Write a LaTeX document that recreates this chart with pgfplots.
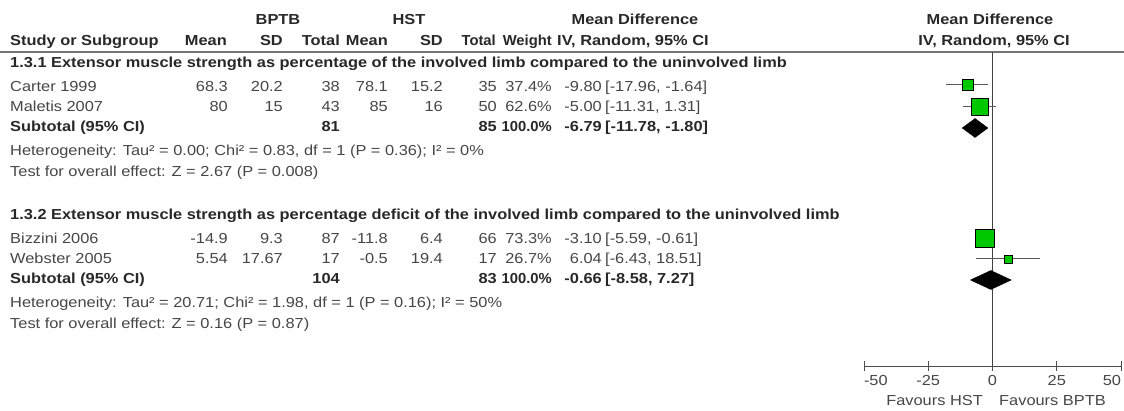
\documentclass[border=0pt]{standalone}
\usepackage{fontspec}
\setmainfont{Liberation Sans}[FakeStretch=1.13]
\newfontfamily\narrow{Liberation Sans}[FakeStretch=1.02]
\usepackage{pgfplots}
\pgfplotsset{compat=1.18}
\definecolor{rmgreen}{RGB}{0,200,0}
\definecolor{txt}{RGB}{70,70,70}
\definecolor{hdr}{RGB}{40,40,40}

% text helpers: x and baseline y in pt, measured from the top left corner
\newcommand\tl[3]{\node[anchor=base west,inner sep=0pt] at (#1pt,-#2pt) {#3};}
\newcommand\tr[3]{\node[anchor=base east,inner sep=0pt] at (#1pt,-#2pt) {#3};}
\newcommand\tc[3]{\node[anchor=base,inner sep=0pt] at (#1pt,-#2pt) {#3};}

% one data row: baseline, study, BPTB mean/sd/n, HST mean/sd/n, weight
\newcommand\row[9]{%
  \tl{10}{#1}{#2}
  \tr{228}{#1}{#3}\tr{283}{#1}{#4}\tr{340}{#1}{#5}
  \tr{388}{#1}{#6}\tr{443}{#1}{#7}\tr{497}{#1}{#8}
  \tr{552}{#1}{#9}}
% estimate and its interval
\newcommand\ci[3]{\tr{602}{#1}{#2}\tl{605}{#1}{#3}}

\newcommand\fs{\fontsize{14.5}{17}\selectfont}

\begin{document}
\begin{tikzpicture}[font=\fs, text=txt]
\path[use as bounding box] (0,0) rectangle (1124pt,-411pt);

% column headers
\begin{scope}[text=hdr, font=\fs\bfseries]
\tc{278}{25}{BPTB}
\tc{409}{25}{HST}
\tc{635}{25}{Mean Difference}
\tc{990}{25}{Mean Difference}
\tl{10}{46}{Study or Subgroup}
\tr{227}{46}{Mean}\tr{283}{46}{SD}\tr{340}{46}{Total}
\tr{388}{46}{Mean}\tr{443}{46}{SD}\tr{496}{46}{\narrow Total}
\tr{552}{46}{\narrow Weight}
\tl{557}{46}{IV, Random, 95\% CI}
\tc{994}{46}{IV, Random, 95\% CI}
\end{scope}
\draw[line width=2pt, black!55] (0,-52pt) -- (1124pt,-52pt);

% subgroup 1.3.1
\tl{10}{68}{\bfseries\color{hdr}1.3.1 Extensor muscle strength as percentage of the involved limb compared to the uninvolved limb}
\row{92}{Carter 1999}{68.3}{20.2}{38}{78.1}{15.2}{35}{37.4\%}
\ci{92}{-9.80}{[-17.96, -1.64]}
\row{112}{Maletis 2007}{80}{15}{43}{85}{16}{50}{62.6\%}
\ci{112}{-5.00}{[-11.31, 1.31]}
\begin{scope}[text=hdr, font=\fs\bfseries]
\row{132}{Subtotal (95\% CI)}{}{}{81}{}{}{85}{\narrow 100.0\%}
\ci{132}{-6.79}{[-11.78, -1.80]}
\end{scope}
\tl{10}{156}{Heterogeneity: Tau² = 0.00; Chi² = 0.83, df = 1 (P = 0.36); I² = 0\%}
\tl{10}{177}{Test for overall effect: Z = 2.67 (P = 0.008)}

% subgroup 1.3.2
\tl{10}{220}{\bfseries\color{hdr}1.3.2 Extensor muscle strength as percentage deficit of the involved limb compared to the uninvolved limb}
\row{244}{Bizzini 2006}{-14.9}{9.3}{87}{-11.8}{6.4}{66}{73.3\%}
\ci{244}{-3.10}{[-5.59, -0.61]}
\row{264}{Webster 2005}{5.54}{17.67}{17}{-0.5}{19.4}{17}{26.7\%}
\ci{264}{6.04}{[-6.43, 18.51]}
\begin{scope}[text=hdr, font=\fs\bfseries]
\row{284}{Subtotal (95\% CI)}{}{}{104}{}{}{83}{\narrow 100.0\%}
\ci{284}{-0.66}{[-8.58, 7.27]}
\end{scope}
\tl{10}{308}{Heterogeneity: Tau² = 20.71; Chi² = 1.98, df = 1 (P = 0.16); I² = 50\%}
\tl{10}{329}{Test for overall effect: Z = 0.16 (P = 0.87)}

% forest plot
\begin{axis}[
  at={(864pt,-366pt)}, anchor=south west,
  scale only axis, width=257pt, height=314pt,
  xmin=-50, xmax=50, ymin=-366, ymax=-52,
  axis x line=bottom, axis y line=none,
  x axis line style={-, black!70, line width=0.9pt},
  xtick={-50,-25,0,25,50},
  xticklabels={{\rlap{-50}},{-25},{0},{25},{\llap{50}}},
  tick align=center, major tick length=10pt,
  tick style={black!70, line width=0.9pt},
  xticklabel style={font=\fs, text=txt, yshift=-1pt},
  /pgf/number format/assume math mode=true,
  clip=false,
]
% line of no effect
\addplot[black!75, line width=0.9pt] coordinates {(0,-52) (0,-366)};
% study intervals
\addplot[black!65, line width=1pt] coordinates {(-17.96,-85) (-1.64,-85)};
\addplot[black!65, line width=1pt] coordinates {(-11.31,-107) (1.31,-107)};
\addplot[black!65, line width=1pt] coordinates {(-5.59,-238) (-0.61,-238)};
\addplot[black!65, line width=1pt] coordinates {(-6.43,-259) (18.51,-259)};
% study estimates, square area by weight
\addplot[only marks, mark=square*, mark size=5.5pt, draw=none, fill=rmgreen] coordinates {(-9.80,-85)};
\addplot[only marks, mark=square*, mark size=8.3pt, draw=none, fill=rmgreen] coordinates {(-5.00,-107)};
\addplot[only marks, mark=square*, mark size=9.2pt, draw=none, fill=rmgreen] coordinates {(-3.10,-238)};
\addplot[only marks, mark=square*, mark size=3.8pt, draw=none, fill=rmgreen] coordinates {(6.04,-259)};
% pooled estimates
\addplot[fill=black, draw=black] coordinates {(-11.78,-128) (-6.79,-118.5) (-1.80,-128) (-6.79,-137.5)} -- cycle;
\addplot[fill=black, draw=black] coordinates {(-8.58,-280) (-0.66,-270.5) (7.27,-280) (-0.66,-289.5)} -- cycle;
\end{axis}

\tr{983}{405}{Favours HST}
\tl{999}{405}{Favours BPTB}
\end{tikzpicture}
\end{document}
